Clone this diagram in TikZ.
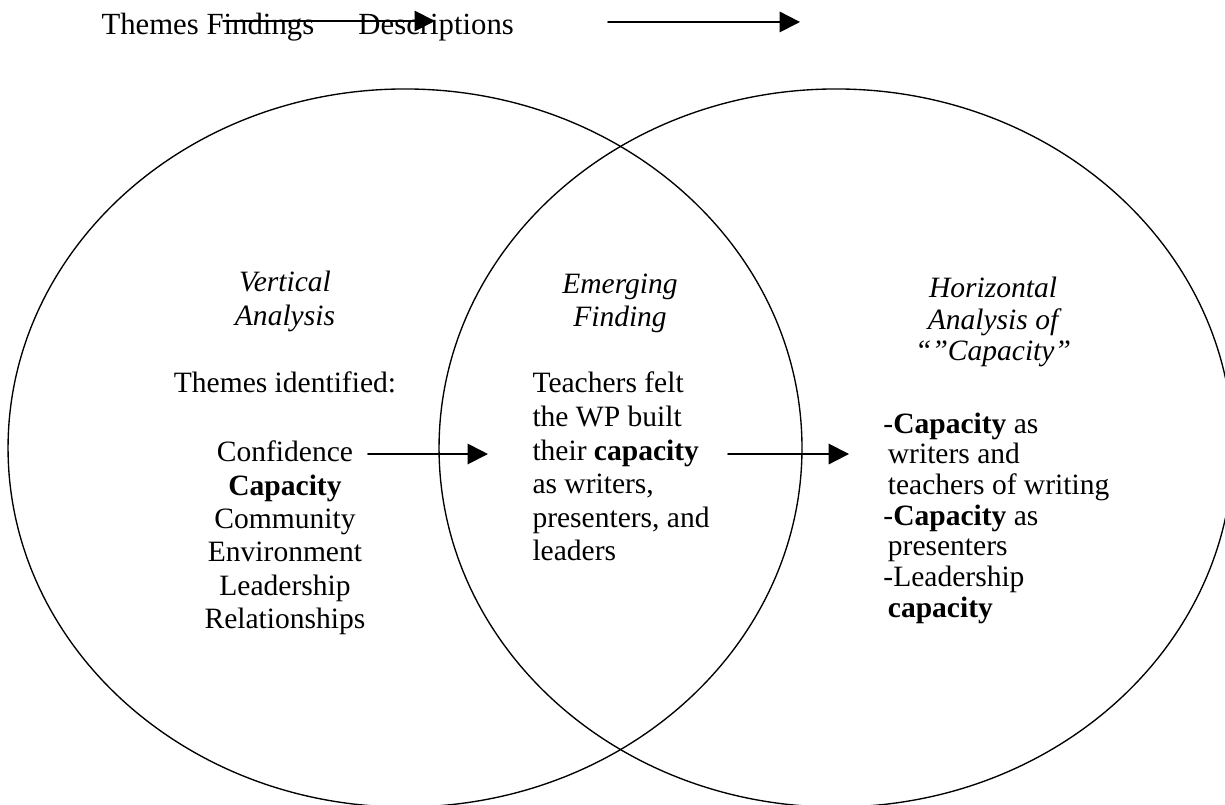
\documentclass[tikz,border=0pt]{standalone}
\usepackage{fontspec}
\setmainfont{Liberation Serif}
\usetikzlibrary{arrows.meta}
\begin{document}
\begin{tikzpicture}[line cap = round, line join = round,font=\fontsize{12}{14}\selectfont]
	\tikzstyle{txt}=[anchor=base,inner sep=0pt]
	\tikzstyle{txtl}=[anchor=base west,inner sep=0pt]
	\tikzstyle{arr}=[-{Triangle[length=2.9mm,width=2.9mm]},line width=0.8pt]
	\useasboundingbox (0,0) rectangle (17.5,-11.5);
	% the two circles
	\draw[line width=0.55pt] (5.786,-6.4) ellipse (5.671 and 5.129);
	\draw[line width=0.55pt] (11.943,-6.4) ellipse (5.671 and 5.129);
	% header
	\node[txtl,font=\fontsize{12.5}{15}\selectfont] (head) at (1.443,-0.5) {Themes Findings};
	\node[txtl,font=\fontsize{12.5}{15}\selectfont] (desc) at (5.114,-0.5) {Descriptions};
	\coordinate (h1) at (3.186,-0.3); \coordinate (h2) at (6.214,-0.3);
	\coordinate (h3) at (8.686,-0.314); \coordinate (h4) at (11.429,-0.314);
	\draw[arr] (h1) -- (h2);
	\draw[arr] (h3) -- (h4);
	% vertical analysis
	\node[txt] (va1) at (4.071,-4.171) {\itshape Vertical};
	\node[txt] (va2) at (4.071,-4.657) {\itshape Analysis};
	\node[txt] (tid) at (4.071,-5.614) {Themes identified:};
	\foreach \t [count=\i from 0] in {Confidence,\textbf{Capacity},Community,Environment,Leadership,Relationships}
		{\node[txt] (th\i) at (4.071,-6.6-0.476*\i) {\t};}
	% emerging finding
	\node[txt] (ef1) at (8.857,-4.2) {\itshape Emerging};
	\node[txt] (ef2) at (8.857,-4.671) {\itshape Finding};
	\foreach \t [count=\i from 0] in {{Teachers felt},{the WP built},{their \textbf{capacity}},{as writers,},{presenters, and},{leaders}}
		{\node[txtl] (tf\i) at (7.6,-5.614-0.48*\i) {\t};}
	% horizontal analysis
	\node[txt] (ha1) at (14.186,-4.257) {\itshape Horizontal};
	\node[txt] (ha2) at (14.186,-4.707) {\itshape Analysis of};
	\node[txt] (ha3) at (14.186,-5.157) {\itshape “”Capacity”};
	\foreach \t [count=\i from 0] in {{-\textbf{Capacity} as},{\hspace*{0.15em}writers and},{\hspace*{0.15em}teachers of writing},{-\textbf{Capacity} as},{\hspace*{0.15em}presenters},{-Leadership},{\hspace*{0.15em}\textbf{capacity}}}
		{\node[txtl] (hc\i) at (12.614,-6.186-0.4386*\i) {\t};}
	% arrows between columns
	\coordinate (m1) at (5.257,-6.486); \coordinate (m2) at (6.971,-6.486);
	\coordinate (m3) at (10.4,-6.486); \coordinate (m4) at (12.129,-6.486);
	\draw[arr] (m1) -- (m2);
	\draw[arr] (m3) -- (m4);
\end{tikzpicture}
\end{document}
